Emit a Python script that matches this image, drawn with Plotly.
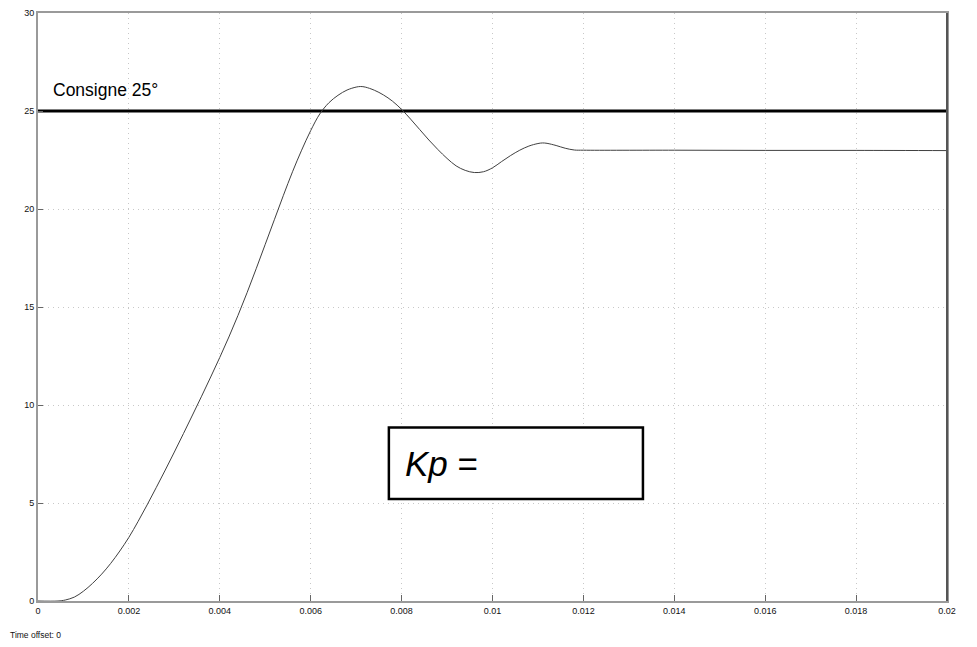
import plotly.graph_objects as go

# Response data (time in s, temperature)
t = [0, 0.00044, 0.0006, 0.0008, 0.001, 0.0012, 0.0014, 0.0016, 0.0018, 0.002,
     0.0022, 0.0024, 0.0026, 0.0028, 0.003, 0.0032, 0.0034, 0.0036, 0.0038, 0.004, 0.0042,
     0.0044, 0.0046, 0.0048, 0.005, 0.0052, 0.0054, 0.0056, 0.0058, 0.006, 0.0062,
     0.0064, 0.0066, 0.0068, 0.007, 0.0071, 0.0072, 0.0074, 0.0076, 0.0078, 0.008,
     0.0082, 0.0084, 0.0086, 0.0088, 0.009, 0.0092, 0.0094, 0.0096, 0.0098, 0.01,
     0.0102, 0.0104, 0.0106, 0.0108, 0.011, 0.0111, 0.0112, 0.0114, 0.0116, 0.0118,
     0.012, 0.014, 0.016, 0.018, 0.02]
temp = [0, 0, 0.05, 0.2, 0.5, 0.9, 1.37, 1.92, 2.55, 3.25,
        4.05, 4.9, 5.78, 6.68, 7.6, 8.54, 9.49, 10.45, 11.43, 12.43, 13.47,
        14.57, 15.73, 16.95, 18.2, 19.45, 20.7, 21.9, 23.0, 24.0, 24.85,
        25.42, 25.8, 26.07, 26.22, 26.25, 26.22, 26.06, 25.82, 25.5, 25.08,
        24.58, 24.05, 23.52, 23.03, 22.58, 22.2, 21.97, 21.86, 21.9, 22.1,
        22.42, 22.73, 23.0, 23.21, 23.34, 23.37, 23.35, 23.24, 23.1, 23.01,
        23.0, 23.0, 22.99, 22.99, 22.98]

setpoint = 25
setpoint_label = "Consigne 25°"
x_ticks = [0, 0.002, 0.004, 0.006, 0.008, 0.01, 0.012, 0.014, 0.016, 0.018, 0.02]
x_tick_text = ["0", "0.002", "0.004", "0.006", "0.008", "0.01", "0.012", "0.014", "0.016", "0.018", "0.02"]
y_ticks = [0, 5, 10, 15, 20, 25, 30]

fig = go.Figure()
fig.add_trace(go.Scatter(x=[0, 0.02], y=[setpoint, setpoint], mode="lines",
                         line=dict(color="black", width=3.2), showlegend=False, hoverinfo="skip"))
fig.add_trace(go.Scatter(x=t, y=temp, mode="lines",
                         line=dict(color="#404040", width=1, shape="spline", smoothing=1.0),
                         showlegend=False))

axis_font = dict(family="Liberation Sans, Arial, sans-serif", size=9, color="#111")
grid_dash = "1px,4px"
fig.update_xaxes(range=[0, 0.02], tickvals=x_ticks, ticktext=x_tick_text, showgrid=True,
                 gridcolor="#c8c8c8", griddash=grid_dash, gridwidth=1, zeroline=False,
                 showline=True, linecolor="#9a9a9a", linewidth=2, mirror=True,
                 ticks="inside", ticklen=6, tickcolor="#666", tickfont=axis_font)
fig.update_yaxes(range=[0, 30], tickvals=y_ticks, showgrid=True,
                 gridcolor="#c8c8c8", griddash=grid_dash, gridwidth=1, zeroline=False,
                 showline=True, linecolor="#9a9a9a", linewidth=2, mirror=True,
                 ticks="inside", ticklen=5, tickcolor="#666", tickfont=axis_font)

# darker right border
fig.add_shape(type="line", xref="paper", yref="paper", x0=1, x1=1, y0=0, y1=1,
              line=dict(color="#555", width=2))

# Kp box
fig.add_shape(type="rect", x0=0.00772, x1=0.01331, y0=5.21, y1=8.85,
              line=dict(color="black", width=2.5), fillcolor="white", layer="above")
fig.add_annotation(x=0.00802, y=7.0, text="<i>Kp</i> =", showarrow=False, xanchor="left", yanchor="middle",
                   font=dict(family="Liberation Sans, Arial, sans-serif", size=35, color="black"))

fig.add_annotation(x=0.00028, y=26.05, text=setpoint_label, showarrow=False, xanchor="left", yanchor="middle",
                   font=dict(family="Liberation Sans, Arial, sans-serif", size=17.5, color="black"))

fig.add_annotation(xref="paper", yref="paper", x=-0.033, y=-0.057, text="Time offset: 0", showarrow=False,
                   xanchor="left", yanchor="middle",
                   font=dict(family="Liberation Sans, Arial, sans-serif", size=8.5, color="#111"))

fig.update_layout(width=977, height=647, margin=dict(l=38, r=30, t=8, b=46),
                  plot_bgcolor="white", paper_bgcolor="white")

fig.write_html("out.html")
